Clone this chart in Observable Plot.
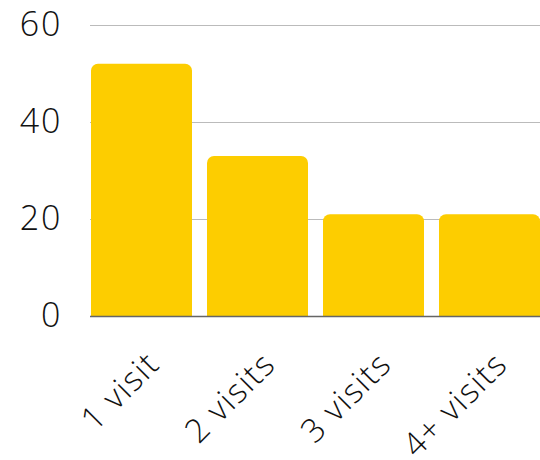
<!DOCTYPE html>
<html><head><meta charset="utf-8">
<script src="https://cdn.jsdelivr.net/npm/d3@7"></script>
<script src="https://cdn.jsdelivr.net/npm/@observablehq/plot@0.6"></script>
<style>body{margin:0;background:#fff;} svg{display:block;} svg text{letter-spacing:1.5px;} svg g.ylab text{letter-spacing:2px;}</style>
</head><body><div id="chart"></div>
<script>
const categories = ["1 visit", "2 visits", "3 visits", "4+ visits"];
const values = [52, 33, 21, 21];
const yTicks = [0, 20, 40, 60];
const data = categories.map((c, i) => ({cat: c, v: values[i]}));
const chart = Plot.plot({
  width: 540, height: 460,
  marginLeft: 90, marginRight: 0, marginTop: 25, marginBottom: 144,
  style: {fontFamily: "'Open Sans', sans-serif", fontSize: "33px", fontWeight: 300, color: "#111", background: "#fff"},
  x: {domain: categories, paddingInner: 0.13, paddingOuter: 0, label: null},
  y: {domain: [0, 60], label: null},
  marks: [
    Plot.gridY(yTicks, {stroke: "#bbb", strokeOpacity: 1}),
    Plot.barY(data, {x: "cat", y: "v", fill: "#FDCD00", rx: 7}),
    Plot.barY(data, {x: "cat", y: d => Math.min(d.v, 5), fill: "#FDCD00"}),
    Plot.ruleY([0], {stroke: "#666", strokeWidth: 1.5}),
    Plot.axisY(yTicks, {tickSize: 0, tickPadding: 28, label: null, fontSize: 34, className: "ylab"}),
    Plot.axisX({tickSize: 0, tickRotate: -45, tickPadding: 42, dx: 12, label: null, fontSize: 33})
  ]
});
document.getElementById("chart").appendChild(chart);
</script></body></html>
